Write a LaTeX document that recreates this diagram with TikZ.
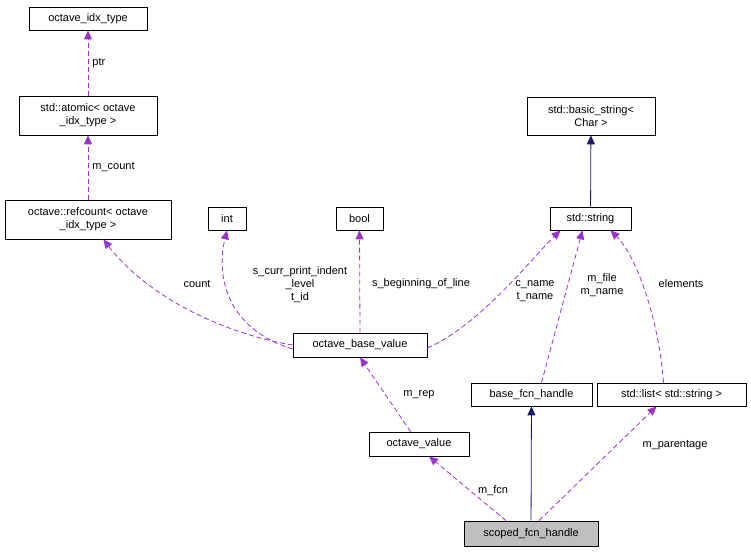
\documentclass[tikz,border=0pt]{standalone}
\usepackage{fontspec}
\setmainfont{Liberation Sans}
\usetikzlibrary{arrows.meta}
\definecolor{pur}{HTML}{9A32CD}
\definecolor{nav}{HTML}{191970}
\begin{document}
\begin{tikzpicture}[x=1pt,y=-1pt,
 box/.style={draw,fill=white,font=\fontsize{11}{13}\selectfont,align=center,inner sep=2pt,line width=0.7pt},
 use/.style={draw=pur,dashed,dash pattern=on 5pt off 3pt,line width=0.8pt,-{Triangle[length=9pt,width=8pt,fill=pur]}},
 inh/.style={draw=nav,line width=0.8pt,-{Triangle[length=9pt,width=8pt,fill=nav]}},
 lab/.style={font=\fontsize{11}{13}\selectfont,align=center,inner sep=0pt}]
\useasboundingbox (0,0) rectangle (751,555);
\node[box,minimum width=118,minimum height=23] (idx) at (88,18.5) {octave\_idx\_type};
\node[box,minimum width=138,minimum height=39] (atom) at (88,115.5) {std::atomic< octave\\\_idx\_type >};
\node[box,minimum width=166,minimum height=39] (ref) at (88,219.5) {octave::refcount< octave\\\_idx\_type >};
\node[box,minimum width=38,minimum height=23] (int) at (227,218.5) {int};
\node[box,minimum width=47,minimum height=23] (bool) at (359.5,218.5) {bool};
\node[box,minimum width=128,minimum height=38] (bs) at (591,116) {std::basic\_string<\\Char >};
\node[box,minimum width=81,minimum height=23] (str) at (590.5,218.5) {std::string};
\node[box,minimum width=134,minimum height=24] (obv) at (360,345) {octave\_base\_value};
\node[box,minimum width=121,minimum height=23] (bfh) at (531.5,394.5) {base\_fcn\_handle};
\node[box,minimum width=149,minimum height=23] (lst) at (671.5,394.5) {std::list< std::string >};
\node[box,minimum width=100,minimum height=24] (ov) at (419,444) {octave\_value};
\node[box,fill=black!25,minimum width=134,minimum height=25] (sfh) at (531,533.5) {scoped\_fcn\_handle};

\draw[use] (atom) -- (idx) node[lab,midway,right=4pt] {ptr};
\draw[use] (ref) -- (atom) node[lab,midway,right=4pt] {m\_count};
\draw[use] (obv.west) .. controls (230,335) and (150,300) .. ([xshift=-68]ref.south east) ;
\draw[use] ([yshift=-4]obv.west) .. controls (230,330) and (215,280) .. (int.south);
\draw[use] (obv.north) -- (bool.south);
\draw[use] ([yshift=-3]obv.east) .. controls (480,325) and (530,260) .. ([xshift=-30]str.south);
\draw[use] ([xshift=10]bfh.north) -- ([xshift=-8]str.south);
\draw[use] ([xshift=-8]lst.north) .. controls (660,330) and (640,260) .. ([xshift=20]str.south);
\draw[inh] (str) -- (bs);
\draw[use] (ov) -- (obv.south) ;
\draw[inh] (sfh) -- (bfh);
\draw[use] ([xshift=-25]sfh.north) -- ([xshift=10]ov.south);
\draw[use] ([xshift=8]sfh.north) -- ([xshift=-15]lst.south);

\node[lab] at (197,284) {count};
\node[lab] at (300,285) {s\_curr\_print\_indent\\\_level\\t\_id};
\node[lab] at (421,284) {s\_beginning\_of\_line};
\node[lab] at (535,291) {c\_name\\t\_name};
\node[lab] at (602,285) {m\_file\\m\_name};
\node[lab] at (681,284) {elements};
\node[lab] at (419,395) {m\_rep};
\node[lab] at (493,491) {m\_fcn};
\node[lab] at (675,445) {m\_parentage};
\end{tikzpicture}
\end{document}
